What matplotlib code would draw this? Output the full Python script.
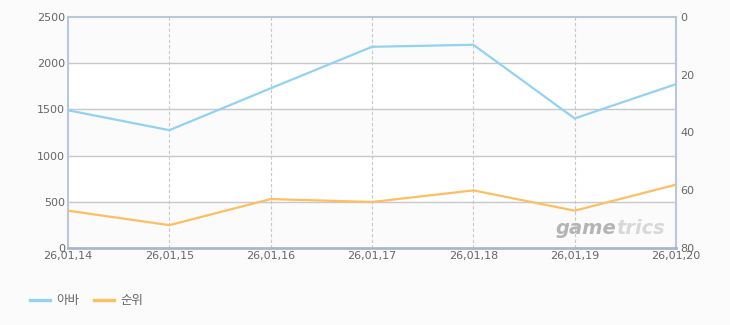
import numpy as np
import matplotlib
matplotlib.use("Agg")
import matplotlib.pyplot as plt
from matplotlib.lines import Line2D

plt.rcParams['font.family'] = ['Noto Sans CJK KR', 'DejaVu Sans']

# data
dates = ["26,01,14", "26,01,15", "26,01,16", "26,01,17", "26,01,18", "26,01,19", "26,01,20"]
aba = [1490, 1275, 1727, 2175, 2197, 1402, 1772]
rank = [67, 72, 63, 64, 60, 67, 58]

left_ticks = [0, 500, 1000, 1500, 2000, 2500]
right_ticks = [0, 20, 40, 60, 80]

blue = "#92d2f2"
orange = "#fdbf62"
label_col = "#666666"
bg = "#fbfbfb"

fig = plt.figure(figsize=(7.3, 3.25), dpi=100, facecolor=bg)
ax = fig.add_axes([68 / 730, 1 - 248.3 / 325, (676 - 68) / 730, (248.3 - 16.7) / 325])
ax.set_facecolor(bg)

x = np.arange(len(dates))
ax.set_xlim(0, len(dates) - 1)
ax.set_ylim(0, 2500)

# alternating bands: white between 500-1000 and 1500-2000
for i, lo in enumerate(left_ticks[:-1]):
    if i % 2 == 1:
        ax.axhspan(lo, left_ticks[i + 1], facecolor="white", zorder=0, lw=0)
for t in left_ticks[1:-1]:
    ax.axhline(t, color="#c8c8c8", lw=1, zorder=1)
for xi in x[1:-1]:
    ax.axvline(xi, color="#c8c8c8", lw=0.8, ls=(0, (3, 2)), zorder=1)

ax.plot(x, aba, color=blue, lw=1.6, zorder=3, solid_capstyle="round")

ax.set_xticks(x)
ax.set_xticklabels(dates)
ax.set_yticks(left_ticks)
ax.tick_params(length=0, colors=label_col, labelsize=8, pad=2)
for lab in ax.get_xticklabels() + ax.get_yticklabels():
    lab.set_family(['DejaVu Sans'])

for side in ["left", "top", "right"]:
    ax.spines[side].set_color("#b8c8da")
    ax.spines[side].set_linewidth(1.5)
ax.spines["bottom"].set_color("#a8b8cc")
ax.spines["bottom"].set_linewidth(2)

ax2 = ax.twinx()
ax2.set_ylim(80, 0)
ax2.set_yticks(right_ticks)
ax2.tick_params(length=0, colors=label_col, labelsize=8, pad=3)
for lab in ax2.get_yticklabels():
    lab.set_family(['DejaVu Sans'])
for s in ax2.spines.values():
    s.set_visible(False)
ax2.plot(x, rank, color=orange, lw=1.6, zorder=3, solid_capstyle="round")

# watermark
ax.text(0.902, 0.085, "game", transform=ax.transAxes, ha="right", va="center",
        fontsize=14, style="italic", weight="bold", color="#b4b4b4",
        family=['DejaVu Sans'], zorder=2)
ax.text(0.902, 0.085, "trics", transform=ax.transAxes, ha="left", va="center",
        fontsize=14, style="italic", weight="bold", color="#d8d8d8",
        family=['DejaVu Sans'], zorder=2)

handles = [Line2D([], [], color=blue, lw=2.4), Line2D([], [], color=orange, lw=2.4)]
fig.legend(handles, ["아바", "순위"], loc="center left", bbox_to_anchor=(0.041, 0.074),
           ncol=2, frameon=False, fontsize=9, handlelength=1.6, handletextpad=0.5,
           columnspacing=1.2, labelcolor=label_col, borderpad=0, borderaxespad=0)

fig.savefig("out.png", dpi=100, facecolor=bg)
